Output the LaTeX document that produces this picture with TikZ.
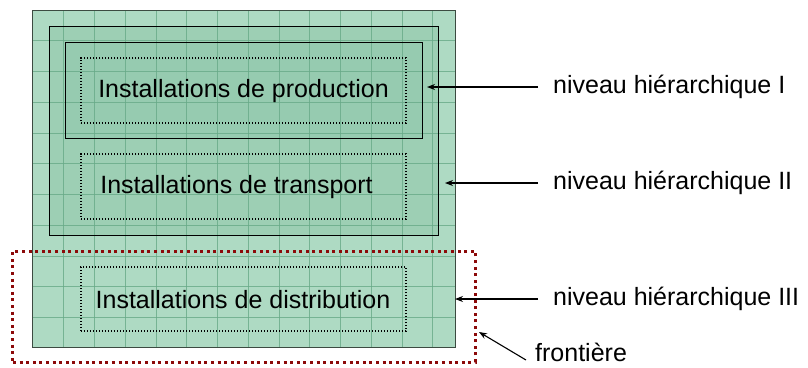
\documentclass[tikz,border=0pt]{standalone}
\usepackage{fontspec}
\setmainfont{Liberation Sans}
\usetikzlibrary{arrows.meta,calc}
\definecolor{mintA}{RGB}{174,218,195}
\definecolor{mintB}{RGB}{157,207,180}
\definecolor{mintC}{RGB}{150,203,176}
\definecolor{gridc}{RGB}{104,170,136}
\definecolor{frontred}{RGB}{140,10,10}
\definecolor{outerline}{RGB}{60,75,65}
\tikzset{
  box/.style={rectangle, inner sep=0pt, outer sep=0pt},
  dotbox/.style={box, draw=black, line width=1.3bp, dash pattern=on 1.4bp off 1.6bp},
  frontbox/.style={box, draw=frontred, line width=3bp, dash pattern=on 3bp off 3.6bp},
  inst/.style={inner sep=0pt, font=\fontsize{25bp}{28bp}\selectfont},
  lab/.style={inner sep=0pt, anchor=west, font=\fontsize{25bp}{28bp}\selectfont},
  gridline/.style={gridc, line width=0.8bp, opacity=0.8},
  arr/.style={-{Stealth[length=8bp,width=6bp]}, line width=1.1bp, black}
}
\begin{document}
\begin{tikzpicture}[x=1bp,y=-1bp]
\useasboundingbox (0,0) rectangle (808,367);
% boxes
\node[box, fill=mintA, minimum width=422bp, minimum height=337bp] (outer) at (244,178.5) {};
\node[box, fill=mintB, minimum width=389bp, minimum height=209bp] (lvl2) at (243.5,130.5) {};
\node[box, fill=mintC, minimum width=357bp, minimum height=96bp] (lvl1) at (243.5,90) {};
% grid
\begin{scope}
\clip (outer.north west) rectangle (outer.south east);
\foreach \i in {1,...,13} {
  \draw[gridline] ($(outer.north west)+(30.75*\i,0)$) -- ++(0,337);
}
\foreach \j in {1,...,10} {
  \draw[gridline] ($(outer.north west)+(0,30.75*\j)$) -- ++(422,0);
}
\end{scope}
\draw[line width=1bp, draw=outerline] (outer.north west) rectangle (outer.south east);
\draw[line width=0.9bp] (lvl2.north west) rectangle (lvl2.south east);
\draw[line width=0.9bp] (lvl1.north west) rectangle (lvl1.south east);
% dotted boxes
\node[dotbox, minimum width=325bp, minimum height=65bp] (prod) at (243.5,90.5) {};
\node[dotbox, minimum width=325bp, minimum height=65bp] (trans) at (243.5,186.5) {};
\node[dotbox, minimum width=325bp, minimum height=64bp] (dist) at (243.5,299) {};
\node[inst] (tprod) at (243.5,91.5) {Installations de production};
\node[inst] (ttrans) at (236.5,187.5) {Installations de transport};
\node[inst] (tdist) at (243,299.5) {Installations de distribution};
% frontier
\node[frontbox, minimum width=462bp, minimum height=111bp] (front) at (244,306.5) {};
% labels
\node[lab] (l1) at (553,87) {niveau hiérarchique I};
\node[lab] (l2) at (553,183) {niveau hiérarchique II};
\node[lab] (l3) at (553,299) {niveau hiérarchique III};
\node[inner sep=0pt, anchor=base west, font=\fontsize{25bp}{28bp}\selectfont] (lf) at (535,361.5) {frontière};
\coordinate (t1) at (427,87);
\coordinate (t2) at (445,183);
\coordinate (t3) at (455,299);
\coordinate (s1) at (538,87);
\coordinate (s2) at (538,183);
\coordinate (s3) at (538,299);
\coordinate (sf) at (526,360);
\coordinate (tf) at (479,332);
\draw[arr] (s1) -- (t1);
\draw[arr] (s2) -- (t2);
\draw[arr] (s3) -- (t3);
\draw[arr] (sf) -- (tf);
\end{tikzpicture}
\end{document}
